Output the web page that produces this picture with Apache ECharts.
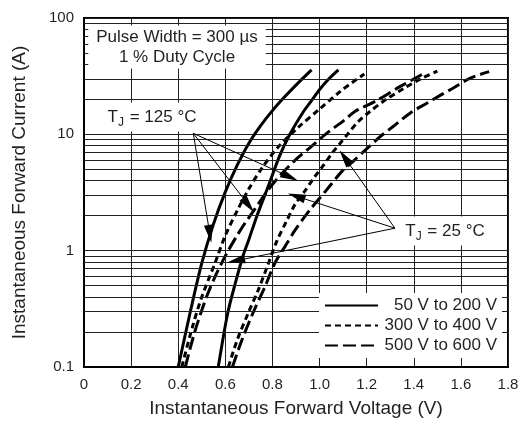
<!DOCTYPE html>
<html><head><meta charset="utf-8">
<script src="https://cdn.jsdelivr.net/npm/echarts@6/dist/echarts.min.js"></script>
<style>html,body{margin:0;padding:0;background:#fff}#c{width:526px;height:426px}</style>
</head><body><div id="c"></div>
<script>
// Tick values
const xTicks = [0, 0.2, 0.4, 0.6, 0.8, 1.0, 1.2, 1.4, 1.6, 1.8];
const yTicks = [0.1, 1, 10, 100];
const minorGrid = [0.2,0.3,0.4,0.5,0.6,0.7,0.8,0.9, 2,3,4,5,6,7,8,9, 20,30,40,50,60,70,80,90];

// Series names (legend)
const names = ['50 V to 200 V', '300 V to 400 V', '500 V to 600 V'];

// [voltage V, current A]
const solid125 = [[0.40,0.1],[0.45,0.29],[0.50,0.78],[0.55,1.7],[0.60,3.2],[0.65,5.4],[0.70,8.4],[0.75,11.9],[0.80,16],[0.85,20.8],[0.90,26.5],[0.966,35.8]];
const solid25 = [[0.57,0.1],[0.61,0.29],[0.645,0.55],[0.675,0.9],[0.70,1.25],[0.733,1.96],[0.785,3.7],[0.83,6.5],[0.874,10],[0.93,15.5],[0.966,19.5],[1.002,24.5],[1.04,30],[1.08,35.8]];
const dotted125 = [[0.415,0.1],[0.46,0.22],[0.50,0.4],[0.556,0.78],[0.60,1.35],[0.655,2.3],[0.70,3.4],[0.76,5.3],[0.83,8],[0.91,11.5],[1.0,16.5],[1.087,23.3],[1.14,28],[1.19,33]];
const dashed125 = [[0.43,0.1],[0.47,0.2],[0.52,0.4],[0.56,0.62],[0.606,0.95],[0.65,1.35],[0.683,1.72],[0.72,2.2],[0.78,3.3],[0.84,4.6],[0.90,6.1],[0.96,7.7],[1.03,10.2],[1.10,13],[1.15,15.7],[1.242,19.5],[1.341,25.7],[1.45,34]];
const dotted25 = [[0.613,0.1],[0.65,0.17],[0.70,0.3],[0.74,0.46],[0.78,0.75],[0.818,1.2],[0.86,1.8],[0.896,2.5],[0.935,3.2],[0.975,4.2],[1.016,5.4],[1.051,6.8],[1.09,8.5],[1.122,10.2],[1.165,12.9],[1.214,15.7],[1.28,19.8],[1.36,25],[1.43,30],[1.50,35]];
const dashed25 = [[0.63,0.1],[0.67,0.17],[0.72,0.3],[0.77,0.5],[0.81,0.78],[0.855,1.1],[0.896,1.5],[0.959,2.24],[1.03,3.33],[1.094,4.78],[1.14,5.8],[1.2,7.5],[1.256,9.5],[1.32,12],[1.384,15.2],[1.455,18.5],[1.51,21.5],[1.568,25],[1.638,30.3],[1.72,34.6]];

// Annotation arrows: [from, to] in data coordinates
const arrows125 = [[[0.464,10.2],[0.528,1.66]], [[0.464,10.2],[0.675,2.84]], [[0.464,10.2],[0.839,4.63]]];
const arrows25 = [[[1.32,1.56],[0.683,0.85]], [[1.32,1.56],[0.938,2.78]], [[1.32,1.56],[1.129,5.46]]];

const FONT = 'Liberation Sans, Arial, Helvetica, sans-serif';
const TXT = '#231f20';
const dashShort = [6, 4];
const dashLong = [13, 5];

const chart = echarts.init(document.getElementById('c'));

function curve(name, data, type) {
  return {
    name: name, type: 'line', data: data, symbol: 'none', smooth: 0.3, z: 3,
    lineStyle: { color: '#000', width: 3, type: type, cap: 'butt' },
    itemStyle: { color: '#000' }
  };
}
const arrowPath = 'path://M5,0L9,18L1,18Z M5,36';
function arrowLines(list) {
  return list.map(p => [
    { coord: p[0], symbol: 'none' },
    { coord: p[1], symbol: arrowPath, symbolSize: [9, 36] }
  ]);
}
const subRich = {
  a: { fontFamily: FONT, fontSize: 17, fill: TXT, color: TXT },
  b: { fontFamily: FONT, fontSize: 12, fill: TXT, color: TXT, padding: [10, 1, 0, 0] }
};

chart.setOption({
  animation: false,
  backgroundColor: '#fff',
  grid: { left: 84, right: 18, top: 18, bottom: 59, show: true, borderColor: '#000', borderWidth: 2, backgroundColor: 'transparent' },
  xAxis: {
    type: 'value', min: 0, max: 1.8, interval: 0.2,
    name: 'Instantaneous Forward Voltage (V)', nameLocation: 'middle', nameGap: 32,
    nameTextStyle: { fontFamily: FONT, fontSize: 19, color: TXT },
    axisLine: { show: true, lineStyle: { color: '#000', width: 2 } },
    axisTick: { show: false },
    axisLabel: { fontFamily: FONT, fontSize: 15, color: TXT, margin: 10,
      formatter: v => (v === 0 ? '0' : v.toFixed(1)) },
    splitLine: { show: true, lineStyle: { color: '#222', width: 1 } }
  },
  yAxis: {
    type: 'log', logBase: 10, min: 0.1, max: 100,
    name: 'Instantaneous Forward Current (A)', nameLocation: 'middle', nameGap: 55,
    nameTextStyle: { fontFamily: FONT, fontSize: 19, color: TXT },
    axisLine: { show: true, lineStyle: { color: '#000', width: 2 } },
    axisTick: { show: false },
    axisLabel: { fontFamily: FONT, fontSize: 15, color: TXT, margin: 10,
      formatter: v => String(Math.round(v * 10) / 10) },
    splitLine: { show: true, lineStyle: { color: '#222', width: 1 } }
  },
  legend: {
    orient: 'vertical', right: 24, top: 293,
    data: names, itemWidth: 53, itemHeight: 14, itemGap: 3,
    backgroundColor: '#fff', padding: [4, 5, 4, 5], z: 10,
    itemStyle: { color: 'transparent', borderWidth: 0, opacity: 0 },
    formatter: n => '{r|' + n + '}',
    textStyle: { fontFamily: FONT, fontSize: 17, color: TXT,
      rich: { r: { width: 114, align: 'right', lineHeight: 18, fontFamily: FONT, fontSize: 17, color: TXT } } }
  },
  graphic: [
    { type: 'text', x: 177, y: 47, z: 100,
      style: { text: 'Pulse Width = 300 µs\n1 % Duty Cycle', align: 'center', verticalAlign: 'middle',
        font: '17px ' + FONT, fill: TXT, lineHeight: 20, backgroundColor: '#fff', padding: [2, 8, 1, 8] } },
    { type: 'text', x: 152, y: 117, z: 100,
      style: { text: '{a|T}{b|J}{a| = 125 °C}', align: 'center', verticalAlign: 'middle',
        backgroundColor: '#fff', padding: [4, 10, 3, 10], rich: subRich } },
    { type: 'text', x: 445, y: 231, z: 100,
      style: { text: '{a|T}{b|J}{a| = 25 °C}', align: 'center', verticalAlign: 'middle',
        backgroundColor: '#fff', padding: [4, 8, 3, 8], rich: subRich } }
  ],
  series: [
    { name: 'minor-grid', type: 'line', data: [], z: 1, silent: true,
      markLine: { silent: true, symbol: ['none', 'none'], label: { show: false },
        lineStyle: { color: '#222', width: 1, type: 'solid' },
        data: minorGrid.map(v => ({ yAxis: v })) } },
    curve(names[0], solid125, 'solid'),
    curve(names[1], dotted125, dashShort),
    curve(names[2], dashed125, dashLong),
    curve(names[0], solid25, 'solid'),
    curve(names[1], dotted25, dashShort),
    curve(names[2], dashed25, dashLong),
    { name: 'arrows', type: 'line', data: [], z: 4, silent: true,
      markLine: { silent: true, label: { show: false }, symbol: ['none', arrowPath],
        lineStyle: { color: '#000', width: 1, type: 'solid' }, itemStyle: { color: '#000' },
        data: arrowLines(arrows125).concat(arrowLines(arrows25)) } }
  ]
});
</script></body></html>
